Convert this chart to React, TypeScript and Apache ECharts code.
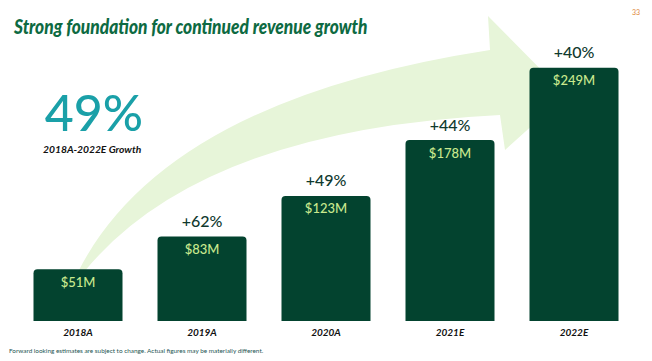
import React, { useEffect, useRef } from "react";
import * as echarts from "echarts";

const categories = ["2018A", "2019A", "2020A", "2021E", "2022E"];
const revenue = [51, 83, 123, 178, 249];
const revenueLabels = ["$51M", "$83M", "$123M", "$178M", "$249M"];
const growthLabels = ["", "+62%", "+49%", "+44%", "+40%"];
const yMax = 300;

const titleText = "Strong foundation for continued revenue growth";
const headline = "49%";
const headlineSub = "2018A-2022E Growth";
const footnote = "Forward looking estimates are subject to change. Actual figures may be materially different.";
const pageNumber = "33";

const ARROW_D =
  "M78,272 Q165,100 490,50 L488,16 L566,95 L505,150 L500,115 Q200,130 84,272 Z";

export default function App() {
  const ref = useRef<HTMLDivElement>(null);
  useEffect(() => {
    if (!ref.current) return;
    try {
      echarts.graphic.registerShape("growthArrow", echarts.graphic.extendPath(ARROW_D, {}));
    } catch (e) {}
    const chart = echarts.init(ref.current, null, { renderer: "svg" });
    const font = "Lato";
    chart.setOption({
      animation: false,
      grid: { left: 16, right: 16, top: 16, bottom: 40 },
      xAxis: {
        type: "category",
        data: categories,
        axisLine: { show: false },
        axisTick: { show: false },
        axisLabel: {
          margin: 6,
          fontFamily: font,
          fontSize: 10,
          fontWeight: "bold",
          fontStyle: "italic",
          color: "#111",
        },
      },
      yAxis: { type: "value", min: 0, max: yMax, show: false, splitLine: { show: false } },
      series: [
        {
          type: "bar",
          data: revenue,
          barWidth: 89,
          z: 3,
          itemStyle: { color: "#03432f", borderRadius: [4, 4, 0, 0] },
          label: {
            show: true,
            position: "insideTop",
            distance: 6,
            fontFamily: font,
            fontSize: 13,
            fontWeight: 500,
            color: "#c9e98e",
            formatter: (p: any) => revenueLabels[p.dataIndex],
          },
        },
        {
          type: "bar",
          data: revenue,
          barWidth: 89,
          barGap: "-100%",
          silent: true,
          z: 4,
          itemStyle: { color: "rgba(0,0,0,0)" },
          label: {
            show: true,
            position: "top",
            distance: 8,
            fontFamily: font,
            fontSize: 16,
            fontWeight: 500,
            color: "#10392e",
            formatter: (p: any) => growthLabels[p.dataIndex],
          },
        },
      ],
      graphic: [
        {
          type: "growthArrow",
          x: 0,
          y: 0,
          z: 0,
          silent: true,
          style: { fill: "#e7f5d9" },
        },
        {
          type: "text",
          x: 14,
          y: 26,
          z: 10,
          scaleX: 0.825,
          style: {
            text: titleText,
            fontFamily: font,
            fontSize: 21,
            fontWeight: 900,
            fontStyle: "italic",
            fill: "#0d6a42",
            verticalAlign: "middle",
          },
        },
        {
          type: "text",
          x: 640,
          y: 12,
          z: 10,
          style: {
            text: pageNumber,
            fontFamily: font,
            fontSize: 7,
            fill: "#e08a3c",
            align: "right",
            verticalAlign: "middle",
          },
        },
        {
          type: "text",
          x: 94,
          y: 112,
          z: 10,
          style: {
            text: headline,
            fontFamily: font,
            fontSize: 50,
            fontWeight: 500,
            fill: "#1aa0a8",
            align: "center",
            verticalAlign: "middle",
          },
        },
        {
          type: "text",
          x: 43,
          y: 149,
          z: 10,
          style: {
            text: headlineSub,
            fontFamily: font,
            fontSize: 10.3,
            fontWeight: "bold",
            fontStyle: "italic",
            fill: "#111",
            verticalAlign: "middle",
          },
        },
        {
          type: "text",
          x: 9,
          y: 350,
          z: 10,
          style: {
            text: footnote,
            fontFamily: font,
            fontSize: 6.4,
            fill: "#1d5552",
            verticalAlign: "middle",
          },
        },
      ],
    });
    return () => chart.dispose();
  }, []);
  return (
    <div
      ref={ref}
      style={{ position: "absolute", left: 0, top: 0, width: 652, height: 361, background: "#fff" }}
    />
  );
}
